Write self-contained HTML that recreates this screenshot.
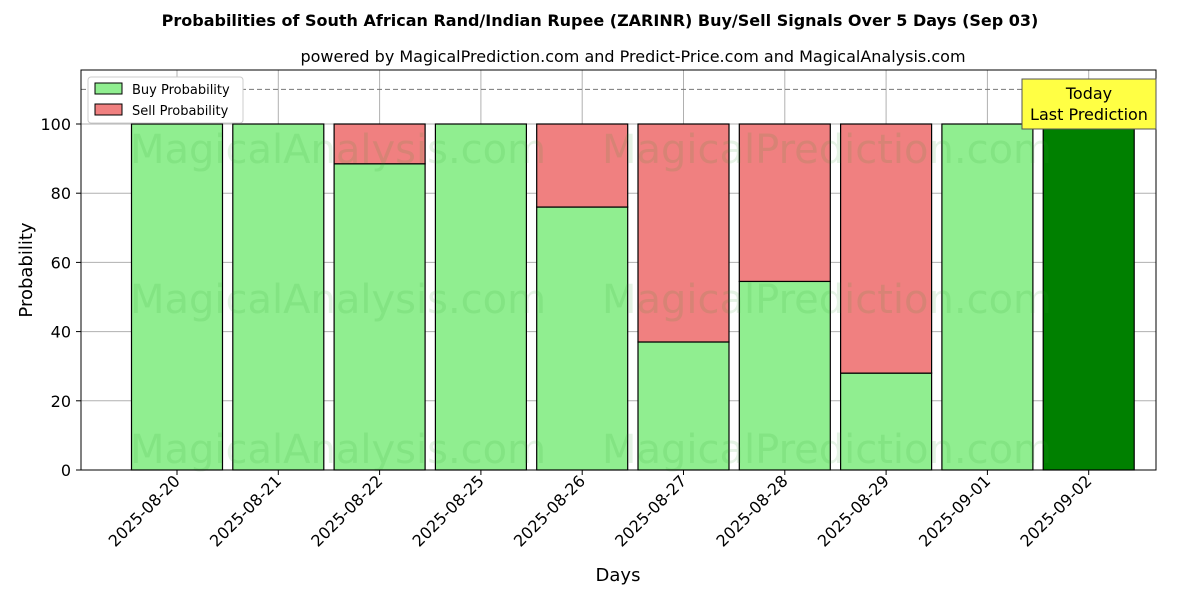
<!DOCTYPE html>
<html><head><meta charset="utf-8"><style>
body{margin:0;background:#fff;font-family:"Liberation Sans","DejaVu Sans",sans-serif}
</style></head><body>
<svg id="c" width="1200" height="600" xmlns="http://www.w3.org/2000/svg" font-family="DejaVu Sans, Liberation Sans, sans-serif">
<text x="600" y="26" text-anchor="middle" font-size="16" font-weight="bold">Probabilities of South African Rand/Indian Rupee (ZARINR) Buy/Sell Signals Over 5 Days (Sep 03)</text>
<text x="633" y="62" text-anchor="middle" font-size="16">powered by MagicalPrediction.com and Predict-Price.com and MagicalAnalysis.com</text>
<g id="grid"></g><g id="bars"></g><g id="wm" fill="#2ca02c" fill-opacity="0.12" font-size="40">
<text x="130" y="163">MagicalAnalysis.com</text>
<text x="602" y="163">MagicalPrediction.com</text>
<text x="130" y="313">MagicalAnalysis.com</text>
<text x="602" y="313">MagicalPrediction.com</text>
<text x="130" y="463">MagicalAnalysis.com</text>
<text x="602" y="463">MagicalPrediction.com</text>
</g>
<line x1="81" x2="1156" y1="89.4" y2="89.4" stroke="#777" stroke-dasharray="5,3"/>
<rect x="81" y="70" width="1075" height="400" fill="none" stroke="#000"/>
<g id="ticks"></g>
<text x="32" y="270" transform="rotate(-90 32 270)" text-anchor="middle" font-size="18">Probability</text>
<text x="618" y="581" text-anchor="middle" font-size="18">Days</text>
<g>
<rect x="88" y="77" width="155" height="46" fill="#fff" stroke="#ccc" rx="3"/>
<rect x="95" y="83" width="27" height="11" fill="#90ee90" stroke="#000"/>
<text x="132" y="94" font-size="13">Buy Probability</text>
<rect x="95" y="104" width="27" height="11" fill="#f08080" stroke="#000"/>
<text x="132" y="115" font-size="13">Sell Probability</text>
</g>
<g>
<rect x="1022" y="79" width="134" height="50" fill="#ffff44" stroke="#555"/>
<text x="1089" y="99" text-anchor="middle" font-size="16">Today</text>
<text x="1089" y="120" text-anchor="middle" font-size="16">Last Prediction</text>
</g>
</svg>
<script>
const days=["2025-08-20","2025-08-21","2025-08-22","2025-08-25","2025-08-26","2025-08-27","2025-08-28","2025-08-29","2025-09-01","2025-09-02"];
const buyValues=[100,100,88.5,100,76,37,54.5,28,100,100];
const sellValues=[0,0,11.5,0,24,63,45.5,72,0,0];
const yTicks=[0,20,40,60,80,100];
const NS="http://www.w3.org/2000/svg";
const y=v=>470-v*3.46;
const x=i=>177+i*101.3;
const bw=91;
function mk(t,a,p){const e=document.createElementNS(NS,t);for(const k in a)e.setAttribute(k,a[k]);p.appendChild(e);return e;}
const g=document.getElementById('grid'),b=document.getElementById('bars'),tk=document.getElementById('ticks');
yTicks.forEach(v=>{
 const l=mk('line',{x1:81,x2:1156,y1:y(v),y2:y(v),stroke:'#b0b0b0'},g);
 
 
 mk('line',{x1:76,x2:81,y1:y(v),y2:y(v),stroke:'#000'},tk);
 const t=mk('text',{x:71,y:y(v)+6,'text-anchor':'end','font-size':16},tk);t.textContent=v;
 
 
});
days.forEach((d,i)=>{
 const l=mk('line',{x1:x(i),x2:x(i),y1:70,y2:470,stroke:'#b0b0b0'},g);
 
 
 const last=i===days.length-1;
 const r1=mk('rect',{x:x(i)-bw/2,y:y(buyValues[i]),width:bw,height:buyValues[i]*3.46,fill:last?'#008000':'#90ee90',stroke:'#000','stroke-width':1.2},b);
 
 
 if(sellValues[i]>0){
  const r2=mk('rect',{x:x(i)-bw/2,y:y(buyValues[i]+sellValues[i]),width:bw,height:sellValues[i]*3.46,fill:'#f08080',stroke:'#000','stroke-width':1.2},b);
  
  
 }
 mk('line',{x1:x(i),x2:x(i),y1:470,y2:475,stroke:'#000'},tk);
 const t=mk('text',{x:x(i)+4,y:482,'text-anchor':'end','font-size':16,transform:`rotate(-45 ${x(i)+4} 482)`},tk);t.textContent=d;
 
 
});
</script>
</body></html>
